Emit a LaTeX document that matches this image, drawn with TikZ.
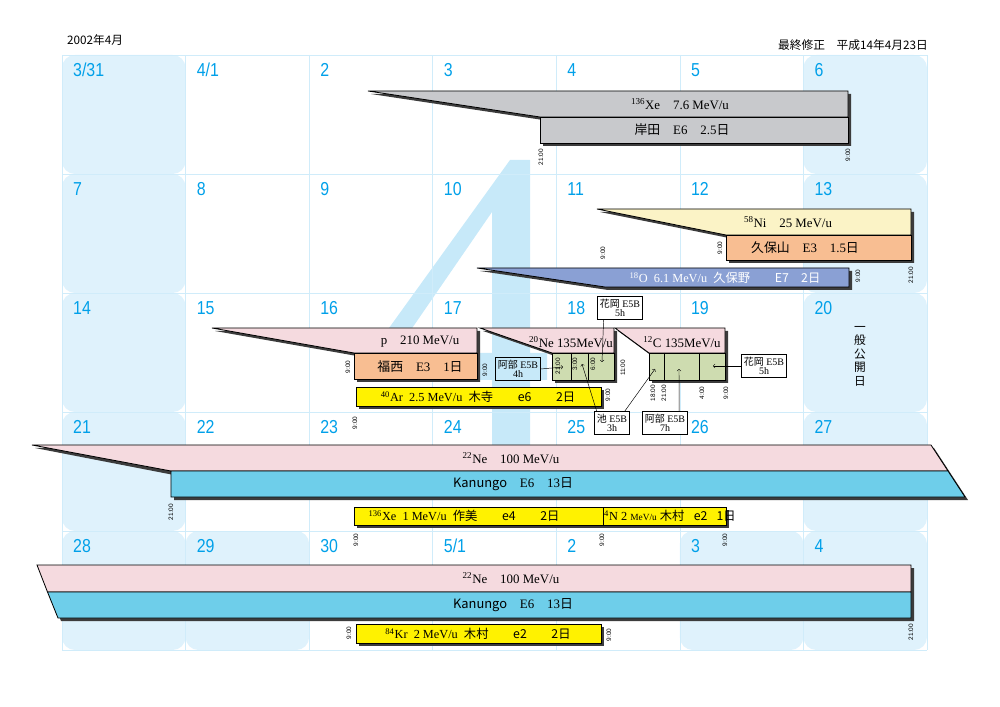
\documentclass[tikz,border=0pt]{standalone}
\usepackage{fontspec}
\setmainfont{Liberation Serif}
\newfontfamily\jp{Noto Sans CJK JP}
\newfontfamily\gs{Liberation Sans}

\definecolor{gridblue}{RGB}{208,236,250}
\definecolor{holblue}{RGB}{223,242,252}
\definecolor{fourblue}{RGB}{199,233,249}
\definecolor{daycol}{RGB}{0,160,233}
\definecolor{xegray}{RGB}{200,201,204}
\definecolor{nicream}{RGB}{251,243,198}
\definecolor{peach}{RGB}{248,190,146}
\definecolor{oblue}{RGB}{138,160,212}
\definecolor{pinkbar}{RGB}{245,218,223}
\definecolor{sage}{RGB}{206,220,176}
\definecolor{lemon}{RGB}{255,242,0}
\definecolor{skybar}{RGB}{110,206,234}
\definecolor{dropgray}{RGB}{60,60,60}

\tikzset{
  gridline/.style={draw=gridblue,line width=0.5pt},
  holiday/.style={fill=holblue,rounded corners=11pt},
  daynum/.style={anchor=west,text=daycol,inner sep=0pt,xscale=0.85,font=\gs\fontsize{16}{16}\selectfont},
  drop/.style={fill=dropgray,shift={(3,3)}},
  bar/.style={draw=black,line width=0.7pt},
  lbl/.style={inner sep=0pt,font=\fontsize{11}{11}\selectfont},
  small/.style={inner sep=0pt,font=\fontsize{10.5}{10.5}\selectfont},
  hour/.style={rotate=90,inner sep=0pt,font=\gs\fontsize{5.5}{6}\selectfont},
  tag/.style={draw,line width=0.5pt,fill=white,align=center,inner xsep=2pt,inner ysep=1pt,
    minimum height=20pt,font=\fontsize{8.5}{7.5}\selectfont},
  link/.style={->,line width=0.4pt}
}

\begin{document}
\begin{tikzpicture}[x=0.3mm,y=-0.3mm]
\useasboundingbox (0,0) rectangle (1000,707);

% holidays
\foreach \c/\r in {0/0,6/0,0/1,6/1,0/2,6/2,0/3,6/3,0/4,1/4,5/4,6/4}
  \fill[holiday] ({62+123.57*\c},{55+119*\r}) rectangle ({62+123.57*(\c+1)},{55+119*(\r+1)});

% big 4
\fill[fourblue,even odd rule] (510,160) -- (530,160) -- (530,353) -- (547,353) -- (547,380)
  -- (530,380) -- (530,490) -- (492,490) -- (492,380) -- (371,380) -- (371,353) -- cycle
  (492,212) -- (492,353) -- (395,353) -- cycle;

% grid
\foreach \c in {0,...,7}
  \draw[gridline] ({62+123.57*\c},55) -- ({62+123.57*\c},650);
\foreach \r in {0,...,5}
  \draw[gridline] (62,{55+119*\r}) -- (927,{55+119*\r});

% day numbers
\foreach \d [count=\n from 0] in {3/31,4/1,2,3,4,5,6,7,8,9,10,11,12,13,14,15,16,17,18,19,20,
    21,22,23,24,25,26,27,28,29,30,5/1,2,3,4} {
  \pgfmathtruncatemacro\c{mod(\n,7)}
  \pgfmathtruncatemacro\r{floor(\n/7)}
  \node[daynum] (day\n) at ({62+123.57*\c+11},{55+119*\r+15}) {\d};
}

\node[anchor=west,inner sep=0pt,font=\jp\fontsize{10}{10}\selectfont] (month) at (67,40) {2002年4月};
\node[anchor=east,inner sep=0pt,font=\jp\fontsize{10}{10}\selectfont] (revised) at (928,45) {最終修正　平成14年4月23日};

% 136Xe 7.6 MeV/u
\fill[drop] (368,91) -- (848,91) -- (848,143) -- (540,143) -- (540,117) -- cycle;
\filldraw[bar,fill=xegray] (368,91) -- (848,91) -- (848,117) -- (540,117) -- cycle;
\filldraw[bar,fill=xegray] (540,117) rectangle (848,143);
\node[lbl] (xeion) at (680,104) {\textsuperscript{136}Xe\quad 7.6 MeV/u};
\node[lbl] (xeuser) at (682,130) {{\jp 岸田}\quad E6\quad 2.5{\jp 日}};

% 58Ni
\fill[drop] (597,209) -- (911,209) -- (911,260) -- (726,260) -- (726,235) -- cycle;
\filldraw[bar,fill=nicream] (597,209) -- (911,209) -- (911,235) -- (726,235) -- cycle;
\filldraw[bar,fill=peach] (726,235) rectangle (911,260);
\node[lbl] (niion) at (788,222) {\textsuperscript{58}Ni\quad 25 MeV/u};
\node[lbl] (niuser) at (805,248) {{\jp 久保山}\quad E3\quad 1.5{\jp 日}};

% 18O
\fill[drop] (477,268) -- (849,268) -- (849,287) -- (605,287) -- cycle;
\filldraw[bar,fill=oblue] (477,268) -- (849,268) -- (849,287) -- (605,287) -- cycle;
\node[small,text=white] (oion) at (725,278) {\textsuperscript{18}O\enspace 6.1 MeV/u\enspace {\jp 久保野}\qquad{\jp E7}\quad{\jp 2日}};

% p 210 MeV/u
\fill[drop] (212,328) -- (477,328) -- (477,379) -- (354,379) -- (354,353) -- cycle;
\filldraw[bar,fill=pinkbar] (212,328) -- (477,328) -- (477,353) -- (354,353) -- cycle;
\filldraw[bar,fill=peach] (354,353) rectangle (477,379);
\node[lbl] (pion) at (420,342) {p\quad 210 MeV/u};
\node[lbl] (puser) at (420,367) {{\jp 福西}\quad E3\quad 1{\jp 日}};

% 20Ne and 12C
\fill[drop] (480,328) -- (614,328) -- (614,380) -- (552,380) -- (552,353) -- cycle;
\fill[drop] (615,328) -- (725,328) -- (725,380) -- (649,380) -- (649,353) -- cycle;
\filldraw[bar,fill=pinkbar] (480,328) -- (614,328) -- (614,353) -- (552,353) -- cycle;
\filldraw[bar,fill=sage] (552,353) rectangle (614,380);
\draw[bar] (571,353) -- (571,380) (588,353) -- (588,380);
\filldraw[bar,fill=pinkbar] (615,328) -- (725,328) -- (725,353) -- (649,353) -- cycle;
\filldraw[bar,fill=sage] (649,353) rectangle (725,380);
\draw[bar] (664,353) -- (664,380) (699,353) -- (699,380);
\node[lbl] (neion) at (571,342) {\textsuperscript{20}Ne 135MeV/u};
\node[lbl] (cion) at (682,342) {\textsuperscript{12}C 135MeV/u};

% 40Ar
\fill[drop] (356,387) rectangle (601,406);
\filldraw[bar,fill=lemon] (356,387) rectangle (601,406);
\node[small] (arion) at (478,397) {\textsuperscript{40}Ar\enspace 2.5 MeV/u\enspace {\jp 木寺}\qquad{\jp e6}\qquad{\jp 2日}};

% 22Ne, first week
\fill[drop] (32,445) -- (931,445) -- (965,497) -- (171,497) -- (171,472) -- cycle;
\filldraw[bar,fill=pinkbar] (32,445) -- (931,445) -- (948,471) -- (171,471) -- cycle;
\filldraw[bar,fill=skybar] (171,471) -- (948,471) -- (965,497) -- (171,497) -- cycle;
\node[lbl] (neaion) at (511,458) {\textsuperscript{22}Ne\quad 100 MeV/u};
\node[lbl] (neauser) at (513,484) {{\jp Kanungo}\quad E6\quad 13{\jp 日}};

% 136Xe 1 MeV/u and 14N
\fill[drop] (354,507) rectangle (603,525);
\fill[drop] (603,507) rectangle (726,525);
\filldraw[bar,fill=lemon] (354,507) rectangle (603,525);
\filldraw[bar,fill=lemon] (603,507) rectangle (726,525);
\node[small] (xelow) at (464,516) {\textsuperscript{136}Xe\enspace 1 MeV/u\enspace {\jp 作美}\qquad{\jp e4}\qquad{\jp 2日}};
\node[small,anchor=west] (nion) at (604,516) {\textsuperscript{4}N 2 {\fontsize{8}{8}\selectfont MeV/u} {\jp 木村}\enspace\ {\jp e2}\enspace\ {\jp 1日}};

% 22Ne, second week
\fill[drop] (37,565) -- (911,565) -- (911,618) -- (58,618) -- cycle;
\filldraw[bar,fill=pinkbar] (37,565) -- (911,565) -- (911,592) -- (47.5,592) -- cycle;
\filldraw[bar,fill=skybar] (47.5,592) -- (911,592) -- (911,618) -- (58,618) -- cycle;
\node[lbl] (nebion) at (511,578) {\textsuperscript{22}Ne\quad 100 MeV/u};
\node[lbl] (nebuser) at (513,605) {{\jp Kanungo}\quad E6\quad 13{\jp 日}};

% 84Kr
\fill[drop] (356,624) rectangle (601,643);
\filldraw[bar,fill=lemon] (356,624) rectangle (601,643);
\node[small] (krion) at (478,634) {\textsuperscript{84}Kr\enspace 2 MeV/u\enspace {\jp 木村}\qquad{\jp e2}\qquad{\jp 2日}};

% hours
\foreach \x/\y/\t [count=\k] in {541/157/21:00,848/155/9:00,603/253/9:00,720/248/9:00,911/275/21:00,
    858/276/9:00,348/367/9:00,485/370/9:00,558/366/21:00,575/364/3:00,593/364/6:00,623/368/11:00,
    608/395/9:00,355/423/9:00,653/393/18:00,664/393/21:00,702/393/4:00,726/393/9:00,171/512/21:00,
    356/540/9:00,602/540/9:00,725/540/9:00,911/632/21:00,349/633/9:00,609/635/9:00}
  \node[hour] (hour\k) at (\x,\y) {\t};

\node[align=center,inner sep=0pt,font=\jp\fontsize{10}{11.5}\selectfont] (openday) at (860,356) {一\\般\\公\\開\\日};

% beam time slots
\coordinate (ne21) at (563,367);
\coordinate (ne3) at (582,364);
\coordinate (ne6) at (602,362);
\coordinate (c18) at (655,369);
\coordinate (c21) at (679,369);
\coordinate (c4) at (713,366);
\node[tag,fill=fourblue] (abe4) at (518,369) {{\jp 阿部} E5B\\4h};
\node[tag] (ike) at (612,423) {{\jp 池} E5B\\3h};
\node[tag] (abe7) at (665,423) {{\jp 阿部} E5B\\7h};
\node[tag] (hanaR) at (764,366) {{\jp 花岡} E5B\\5h};
\node[tag] (hanaT) at (620,308) {{\jp 花岡} E5B\\5h};
\draw[link] (abe4.east) -- (ne21);
\draw[link] ([xshift=2pt]ike.north west) -- (ne3);
\draw[link] ([xshift=11pt]ike.north) -- (c18);
\draw[link] ([xshift=12pt]abe7.north) -- (c21);
\draw[link] (hanaR.west) -- (c4);
\draw[link] ([xshift=-14pt]hanaT.south) -- (ne6);
\end{tikzpicture}
\end{document}
